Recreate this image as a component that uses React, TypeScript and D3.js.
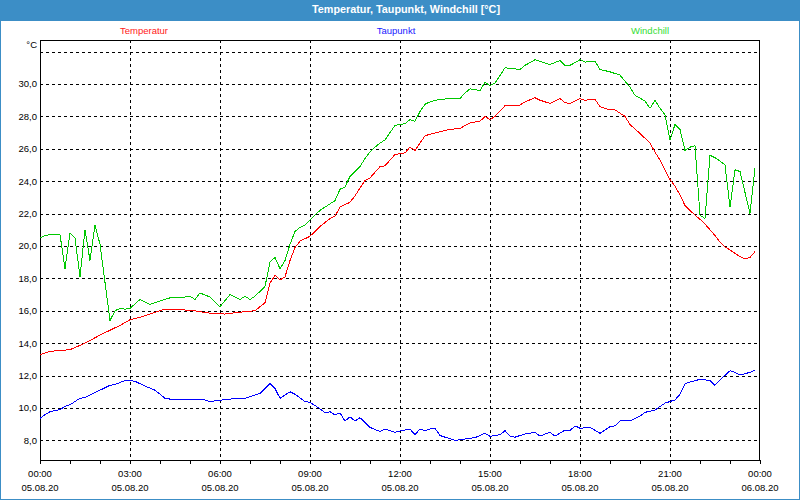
import React from "react";
import * as d3 from "d3";

// Time in minutes since 00:00 on 05.08.20, values in °C
const temperatur: [number, number][] = [
  [0, 13.3], [20, 13.5], [60, 13.6], [90, 14.0], [120, 14.5], [160, 15.1], [180, 15.45], [200, 15.6],
  [250, 16.1], [270, 16.1], [310, 16.0], [340, 15.85], [370, 15.8], [410, 15.95], [430, 16.0], [450, 16.5],
  [460, 17.7], [470, 18.2], [480, 17.9], [490, 18.1], [500, 19.1], [510, 19.9], [520, 20.3], [530, 20.45],
  [540, 20.6], [560, 21.2], [580, 21.7], [590, 21.85], [600, 22.4], [610, 22.55], [620, 22.7], [630, 23.1],
  [650, 24.05], [660, 24.2], [680, 24.9], [690, 24.95], [700, 25.3], [710, 25.65], [730, 25.75], [740, 26.1],
  [750, 25.9], [770, 26.8], [780, 26.9], [800, 27.05], [820, 27.2], [840, 27.26], [860, 27.6], [880, 27.7],
  [890, 28.0], [900, 27.8], [910, 28.0], [930, 28.66], [960, 28.7], [970, 28.9], [990, 29.15], [1000, 29.0],
  [1020, 28.8], [1040, 29.1], [1050, 28.85], [1060, 28.8], [1080, 29.1], [1090, 29.0], [1110, 29.05],
  [1120, 28.6], [1140, 28.4], [1150, 28.4], [1170, 28.0], [1180, 27.5], [1200, 26.95], [1220, 26.35],
  [1230, 25.8], [1240, 25.3], [1250, 24.7], [1260, 24.1], [1270, 23.7], [1280, 23.15], [1290, 22.5],
  [1300, 22.2], [1310, 21.9], [1320, 21.65], [1330, 21.35], [1340, 21.0], [1350, 20.65], [1360, 20.25],
  [1370, 19.95], [1380, 19.75], [1390, 19.55], [1400, 19.35], [1410, 19.2], [1420, 19.3], [1430, 19.65],
];

const taupunkt: [number, number][] = [
  [0, 9.35], [10, 9.6], [20, 9.77], [40, 9.9], [50, 10.1], [60, 10.2], [80, 10.6], [90, 10.65], [110, 10.95],
  [120, 11.1], [140, 11.4], [150, 11.45], [170, 11.7], [180, 11.7], [190, 11.65], [200, 11.5], [210, 11.35],
  [230, 11.1], [250, 10.6], [270, 10.5], [330, 10.5], [340, 10.4], [380, 10.55], [410, 10.6], [440, 10.9],
  [460, 11.5], [470, 11.2], [480, 10.6], [500, 11.0], [510, 10.85], [530, 10.4], [540, 10.35], [560, 9.95],
  [570, 9.7], [580, 9.77], [590, 9.57], [600, 9.7], [610, 9.2], [620, 9.45], [630, 9.2], [640, 9.4],
  [660, 8.8], [680, 8.55], [690, 8.7], [710, 8.5], [720, 8.58], [740, 8.7], [750, 8.35], [760, 8.7],
  [770, 8.6], [780, 8.7], [790, 8.75], [800, 8.3], [830, 8.0], [860, 8.13], [870, 8.17], [890, 8.44],
  [900, 8.25], [910, 8.3], [920, 8.35], [930, 8.6], [940, 8.27], [950, 8.2], [970, 8.4], [990, 8.5],
  [1000, 8.27], [1020, 8.5], [1030, 8.27], [1050, 8.64], [1060, 8.6], [1070, 8.9], [1080, 8.75], [1100, 8.8],
  [1120, 8.44], [1140, 8.85], [1150, 8.9], [1160, 9.2], [1180, 9.2], [1200, 9.5], [1210, 9.73], [1230, 9.88],
  [1250, 10.3], [1260, 10.4], [1270, 10.5], [1280, 10.85], [1290, 11.5], [1300, 11.6], [1320, 11.77],
  [1340, 11.7], [1350, 11.4], [1360, 11.73], [1380, 12.3], [1390, 12.2], [1400, 12.04], [1420, 12.2], [1430, 12.35],
];

const windchill: [number, number][] = [
  [0, 20.5], [10, 20.65], [20, 20.7], [40, 20.7], [50, 18.6], [60, 20.8], [70, 20.5], [80, 18.1], [90, 21.0],
  [100, 19.1], [110, 21.3], [120, 20.1], [140, 15.4], [150, 16.0], [160, 16.15], [170, 16.1], [180, 16.15],
  [200, 16.7], [220, 16.4], [240, 16.6], [260, 16.8], [280, 16.8], [300, 16.9], [310, 16.7], [320, 17.1],
  [340, 16.85], [360, 16.25], [380, 17.0], [400, 16.7], [410, 16.9], [420, 16.7], [430, 16.9], [450, 17.5],
  [460, 19.0], [470, 19.3], [480, 18.6], [490, 19.1], [500, 20.1], [510, 20.9], [520, 21.15], [530, 21.3],
  [540, 21.6], [560, 22.2], [580, 22.6], [590, 22.8], [600, 23.5], [610, 23.65], [620, 24.3], [640, 24.9],
  [650, 25.4], [660, 25.8], [670, 26.1], [680, 26.35], [690, 26.55], [700, 27.0], [710, 27.45], [720, 27.5],
  [730, 27.55], [740, 27.8], [750, 27.7], [760, 28.3], [770, 28.75], [780, 28.9], [800, 29.05], [820, 29.1],
  [840, 29.1], [850, 29.45], [860, 29.7], [880, 29.6], [890, 30.1], [900, 29.9], [910, 30.05], [930, 31.0],
  [960, 30.9], [970, 31.15], [990, 31.5], [1000, 31.4], [1010, 31.3], [1020, 31.2], [1040, 31.45],
  [1050, 31.15], [1060, 31.15], [1080, 31.5], [1090, 31.35], [1110, 31.4], [1120, 30.9], [1140, 30.75],
  [1160, 30.55], [1180, 29.8], [1190, 29.3], [1210, 28.95], [1220, 28.5], [1230, 29.0], [1240, 28.5],
  [1250, 28.1], [1260, 26.55], [1270, 27.5], [1280, 27.2], [1290, 25.9], [1300, 26.1], [1310, 26.2],
  [1320, 21.9], [1330, 21.7], [1340, 25.6], [1350, 25.45], [1360, 25.25], [1370, 25.0], [1380, 22.4],
  [1390, 24.7], [1400, 24.6], [1410, 23.3], [1420, 22.0], [1430, 24.8],
];

const yTickValues = [8, 10, 12, 14, 16, 18, 20, 22, 24, 26, 28, 30];
const yGridValues = [8, 10, 12, 14, 16, 18, 20, 22, 24, 26, 28, 30, 32];
const xMajorMinutes = [0, 180, 360, 540, 720, 900, 1080, 1260, 1440];
const xTimeLabels = ["00:00", "03:00", "06:00", "09:00", "12:00", "15:00", "18:00", "21:00", "00:00"];
const xDateLabels = ["05.08.20", "05.08.20", "05.08.20", "05.08.20", "05.08.20", "05.08.20", "05.08.20", "05.08.20", "06.08.20"];
const xMinorMinutes = d3.range(0, 1441, 60);

const seriesNames = ["Temperatur", "Taupunkt", "Windchill"];
const seriesColors = ["#ff0000", "#0000ff", "#00c800"];
const legendColors = ["#ff2020", "#2020ff", "#33dd33"];

const W = 800;
const H = 500;
const L = 40, R = 760, T = 40, B = 460;
const FONT = "'Liberation Sans', Arial, sans-serif";
const BLUE = "#3c8ec6";

export default function App() {
  const x = d3.scaleLinear().domain([0, 1440]).range([L, R]);
  const y = d3.scaleLinear().domain([6.79, 32.716]).range([B, T]);
  const line = d3
    .line<[number, number]>()
    .x((d) => x(d[0]))
    .y((d) => y(d[1]));
  const allSeries = [temperatur, taupunkt, windchill];
  const snap = (v: number) => Math.round(v) + 0.5;

  return (
    <svg
      width={W}
      height={H}
      viewBox={`0 0 ${W} ${H}`}
      style={{ position: "fixed", left: 0, top: 0, display: "block", background: "#fff" }}
    >
      <rect x={0} y={0} width={W} height={H} fill="#ffffff" />
      {/* title bar */}
      <rect x={0} y={0} width={W} height={21} fill={BLUE} />
      <rect x={0.5} y={0.5} width={W - 1} height={H - 1} fill="none" stroke={BLUE} strokeWidth={1} />
      <text
        x={406}
        y={13}
        textAnchor="middle"
        fill="#ffffff"
        fontFamily={FONT}
        fontWeight="bold"
        fontSize={11}
        textLength={188}
        lengthAdjust="spacingAndGlyphs"
      >
        Temperatur, Taupunkt, Windchill [°C]
      </text>

      {/* legend */}
      {seriesNames.map((n, i) => (
        <text
          key={n}
          x={[144, 396, 650][i]}
          y={34}
          textAnchor="middle"
          fill={legendColors[i]}
          fontFamily={FONT}
          fontSize={9.5}
        >
          {n}
        </text>
      ))}

      {/* grid */}
      <g stroke="#000" strokeWidth={1} strokeDasharray="3,3" shapeRendering="crispEdges">
        {yGridValues.map((v) => (
          <line key={"h" + v} x1={L} x2={R} y1={snap(y(v))} y2={snap(y(v))} />
        ))}
        {xMajorMinutes.slice(1, -1).map((m) => (
          <line key={"v" + m} x1={snap(x(m))} x2={snap(x(m))} y1={T} y2={B} />
        ))}
      </g>

      {/* frame */}
      <rect
        x={L + 0.5}
        y={T + 0.5}
        width={R - L - 1}
        height={B - T}
        fill="none"
        stroke="#000"
        strokeWidth={1}
        shapeRendering="crispEdges"
      />
      <line x1={L} x2={R + 1} y1={B + 0.5} y2={B + 0.5} stroke="#000" shapeRendering="crispEdges" />
      <g stroke="#000" strokeWidth={1} shapeRendering="crispEdges">
        {xMinorMinutes.map((m) => (
          <line key={"t" + m} x1={snap(x(m))} x2={snap(x(m))} y1={B} y2={B + 4} />
        ))}
      </g>

      {/* series */}
      {allSeries.map((s, i) => (
        <path
          key={seriesNames[i]}
          d={line(s) || ""}
          fill="none"
          stroke={seriesColors[i]}
          strokeWidth={1}
          shapeRendering="crispEdges"
        />
      ))}

      {/* y labels */}
      <g fontFamily={FONT} fontSize={9.5} fill="#000" textAnchor="end">
        {yTickValues.map((v) => (
          <text key={"yl" + v} x={37} y={y(v) + 3.5}>
            {d3.format(".1f")(v).replace(".", ",")}
          </text>
        ))}
        <text x={37} y={48}>°C</text>
      </g>

      {/* x labels */}
      <g fontFamily={FONT} fontSize={9.5} fill="#000" textAnchor="middle">
        {xMajorMinutes.map((m, i) => (
          <g key={"xl" + i}>
            <text x={x(m)} y={477}>{xTimeLabels[i]}</text>
            <text x={x(m)} y={491}>{xDateLabels[i]}</text>
          </g>
        ))}
      </g>
    </svg>
  );
}
